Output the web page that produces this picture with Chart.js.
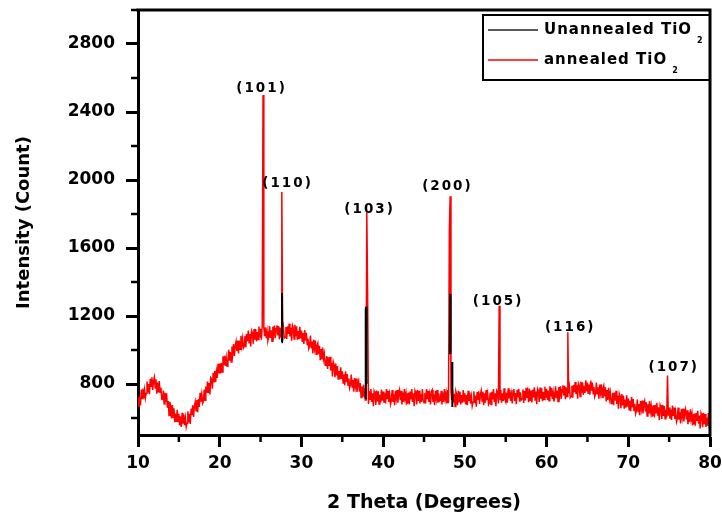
<!DOCTYPE html>
<html><head><meta charset="utf-8">
<script src="https://cdn.jsdelivr.net/npm/chart.js@4.4.1/dist/chart.umd.min.js"></script>
<style>html,body{margin:0;padding:0;background:#fff}#wrap{width:722px;height:517px;position:relative}</style>
</head><body><div id="wrap"><canvas id="c"></canvas></div>
<script>
// ---- data ----
const gridStart = 10, gridStep = 0.1;   // 2θ sampling grid of the annealed scan (10.0 … 80.0)
const annealedIntensity = [
 720,663,726,674,767,715,773,716,764,717,
 745,815,750,800,740,830,787,839,765,820,
 840,776,827,743,809,750,818,751,779,712,
 710,761,682,748,694,745,660,700,615,695,
 670,598,676,604,657,575,626,577,648,579,
 625,557,610,548,630,567,620,558,600,547,
 570,640,575,625,565,655,617,674,606,668,
 695,643,706,634,712,665,748,696,739,687,
 700,767,704,786,748,815,748,806,739,837,
 830,773,866,809,877,810,873,836,919,862,
 920,862,924,871,963,910,966,907,953,904,
 930,1001,937,988,929,1020,980,1035,965,1025,
 1050,995,1055,980,1055,1005,1084,1028,1067,1011,
 1020,1083,1016,1094,1052,1115,1042,1094,1021,1113,
 1100,1037,1124,1061,1123,1050,1106,1062,1138,1074,
 1125,1061,1140,2500,1130,1082,1133,1069,1109,1055,
 1075,1141,1071,1116,1052,1137,1093,1144,1069,1125,
 1145,1086,1141,1062,1132,1078,1930,1093,1130,1070,
 1075,1135,1065,1140,1095,1155,1080,1130,1055,1145,
 1130,1065,1148,1081,1139,1060,1112,1064,1136,1068,
 1115,1047,1099,1036,1118,1055,1101,1032,1068,1009,
 1025,1085,1010,1050,980,1060,1010,1055,975,1025,
 1040,975,1025,940,1005,945,1014,948,977,911,
 910,964,888,957,906,960,880,925,845,930,
 910,840,920,850,905,825,876,827,898,829,
 875,806,857,793,874,810,859,793,832,776,
 795,856,782,823,754,835,786,832,753,804,
 820,755,805,720,785,725,795,730,760,700,
 1810,1330,683,758,710,770,695,745,670,757,
 742,677,762,697,757,682,737,692,767,702,
 755,690,745,685,770,710,760,695,735,680,
 700,765,695,740,675,760,715,765,690,745,
 765,705,760,680,750,695,770,710,745,685,
 690,750,680,755,710,770,695,745,670,760,
 745,680,765,700,760,685,740,695,770,705,
 690,745,685,770,710,760,695,735,680,755,
 765,695,740,675,760,715,765,690,745,700,
 705,760,680,750,695,770,710,745,685,765,
 687,1700,1904,752,707,767,692,742,667,757,
 740,675,760,695,755,680,735,690,765,700,
 745,680,735,675,760,700,750,685,725,670,
 692,757,687,732,667,752,707,757,682,737,
 760,700,755,675,745,690,765,705,740,680,
 690,750,680,755,710,770,695,745,670,760,
 750,685,1260,705,765,690,745,700,775,710,
 695,750,690,775,715,765,700,740,685,760,
 771,701,746,681,766,721,771,696,751,706,
 713,768,688,758,703,778,718,753,693,773,
 701,761,691,766,721,781,706,756,681,771,
 759,694,779,714,774,699,754,709,784,719,
 772,707,762,702,787,727,777,712,752,697,
 722,787,717,762,697,782,737,787,712,767,
 792,733,789,710,781,727,1105,744,780,720,
 727,789,719,796,752,812,741,792,713,804,
 791,727,813,749,810,736,790,747,822,757,
 808,742,797,737,820,760,808,743,782,726,
 745,808,738,781,714,797,750,798,721,774,
 790,727,780,697,764,706,778,715,748,686,
 690,748,676,749,702,760,683,731,654,742,
 725,658,741,674,732,655,708,661,734,667,
 715,648,702,640,724,662,711,644,683,626,
 645,709,638,682,616,700,654,703,627,681,
 700,639,693,612,681,625,699,638,672,611,
 615,674,603,677,631,690,614,663,587,676,
 660,594,678,612,671,595,649,604,850,613,
 662,596,650,589,673,612,661,595,634,578,
 597,661,590,634,568,652,606,655,579,633,
 652,591,645,564,633,577,651,590,624,563,
 567,626,555,629,583,642,566,615,539,628,
 612,546,630,564,623,547,601,555,629,563,
 585
];
// unannealed sample: only its peak segments are visible (rest lies under the red trace)
const unannealedX = [27.58, 27.62, 27.66, 37.0, 37.82, 37.87, 37.92, 37.97, 47.0, 48.17, 48.21, 48.25, 48.35, 48.44, 48.47];
const unannealedY = [1045, 1335, 1050, null, 715, 1240, 1255, 800, null, 975, 1330, 980, null, 930, 665];

const seriesNames = ['Unannealed TiO', 'annealed TiO'];
const peakLabels = ['(101)', '(110)', '(103)', '(200)', '(105)', '(116)', '(107)'];
const peakLabelX = [25.0, 28.18, 38.22, 47.74, 53.95, 62.77, 75.44];
const peakLabelY = [2537, 1980, 1824, 1959, 1284, 1132, 897];

const xMajorTicks = [10, 20, 30, 40, 50, 60, 70, 80];
const xMinorTicks = [15, 25, 35, 45, 55, 65, 75];
const yMajorTicks = [800, 1200, 1600, 2000, 2400, 2800];
const yMinorTicks = [600, 1000, 1400, 1800, 2200, 2600, 3000];

// ---- build library tables ----
const annealedData = annealedIntensity.map((v, i) => ({x: +(gridStart + i * gridStep).toFixed(2), y: v}));
const unannealedData = unannealedX.map((v, i) => ({x: v, y: unannealedY[i]}));

const FONT = '"DejaVu Sans", "Liberation Sans", sans-serif';

const decor = {
  id: 'decor',
  afterDatasetsDraw(chart) {
    const {ctx, chartArea: ca, scales: {x, y}} = chart;
    ctx.save();
    ctx.strokeStyle = '#000';
    ctx.lineWidth = 3;
    ctx.lineCap = 'square';
    ctx.beginPath();
    ctx.moveTo(ca.left, ca.top); ctx.lineTo(ca.right, ca.top); ctx.lineTo(ca.right, ca.bottom);
    ctx.stroke();
    ctx.lineCap = 'butt';
    ctx.lineWidth = 2.5;
    xMinorTicks.forEach(v => { const p = x.getPixelForValue(v); ctx.beginPath(); ctx.moveTo(p, ca.bottom); ctx.lineTo(p, ca.bottom + 7); ctx.stroke(); });
    yMinorTicks.forEach(v => { const p = y.getPixelForValue(v); ctx.beginPath(); ctx.moveTo(ca.left, p); ctx.lineTo(ca.left - 7, p); ctx.stroke(); });

    // peak labels
    ctx.fillStyle = '#000';
    ctx.font = 'bold 13.5px ' + FONT;
    ctx.textAlign = 'center';
    ctx.textBaseline = 'middle';
    ctx.letterSpacing = '2px';
    peakLabels.forEach((t, i) => ctx.fillText(t, x.getPixelForValue(peakLabelX[i]) + 1, y.getPixelForValue(peakLabelY[i])));

    // legend
    const bl = 483, bt = ca.top + 5, br = ca.right, bb = 80;
    ctx.lineWidth = 2;
    ctx.strokeStyle = '#000';
    ctx.strokeRect(bl, bt, br - bl, bb - bt);
    const rows = [{c: '#222', y: 30}, {c: '#ff0000', y: 60}];
    rows.forEach((r, i) => {
      ctx.strokeStyle = r.c; ctx.lineWidth = 1.5;
      ctx.beginPath(); ctx.moveTo(488, r.y); ctx.lineTo(538, r.y); ctx.stroke();
      ctx.font = 'bold 15px ' + FONT;
      ctx.letterSpacing = '1px';
      ctx.textAlign = 'left';
      ctx.fillText(seriesNames[i], 544, r.y);
      const w = ctx.measureText(seriesNames[i]).width;
      ctx.font = 'bold 8px ' + FONT;
      ctx.letterSpacing = '0px';
      ctx.fillText('2', 544 + w + 5, r.y + 11);
    });
    ctx.restore();
  }
};

new Chart(document.getElementById('c'), {
  type: 'scatter',
  data: {
    datasets: [
      {label: seriesNames[0], data: unannealedData, showLine: true, borderColor: '#000', borderWidth: 2, pointRadius: 0, spanGaps: false, order: 0},
      {label: seriesNames[1], data: annealedData, showLine: true, borderColor: '#ff0000', borderWidth: 1.5, pointRadius: 0, order: 1}
    ]
  },
  options: {
    responsive: true,
    maintainAspectRatio: false,
    animation: false,
    devicePixelRatio: 1,
    layout: {padding: {top: 10, right: 12, left: 0, bottom: 0}},
    plugins: {legend: {display: false}, tooltip: {enabled: false}},
    scales: {
      x: {
        type: 'linear', min: 10, max: 80,
        afterFit: s => { s.height = 82; s.paddingLeft = 0; s.paddingRight = 0; },
        afterBuildTicks: s => { s.ticks = xMajorTicks.map(v => ({value: v})); },
        border: {display: true, color: '#000', width: 3},
        grid: {display: true, drawOnChartArea: false, drawTicks: true, tickLength: 12, tickWidth: 3, tickColor: '#000', color: '#000'},
        ticks: {autoSkip: false, maxRotation: 0, padding: 6, color: '#000', font: {family: FONT, size: 17, weight: 'bold'}, callback: v => String(v)},
        title: {display: true, text: '2 Theta (Degrees)', color: '#000', font: {family: FONT, size: 19, weight: 'bold'}, padding: {top: 0, bottom: 3}}
      },
      y: {
        type: 'linear', min: 500, max: 3000,
        afterFit: s => { s.width = 138; s.paddingTop = 0; s.paddingBottom = 0; },
        afterBuildTicks: s => { s.ticks = yMajorTicks.map(v => ({value: v})); },
        border: {display: true, color: '#000', width: 3},
        grid: {display: true, drawOnChartArea: false, drawTicks: true, tickLength: 12, tickWidth: 3, tickColor: '#000', color: '#000'},
        ticks: {autoSkip: false, padding: 11, color: '#000', font: {family: FONT, size: 17, weight: 'bold'}, callback: v => String(v)},
        title: {display: true, text: 'Intensity (Count)', color: '#000', font: {family: FONT, size: 18, weight: 'bold'}, padding: {top: 14, bottom: 0}}
      }
    }
  },
  plugins: [decor]
});
</script>
</body></html>
